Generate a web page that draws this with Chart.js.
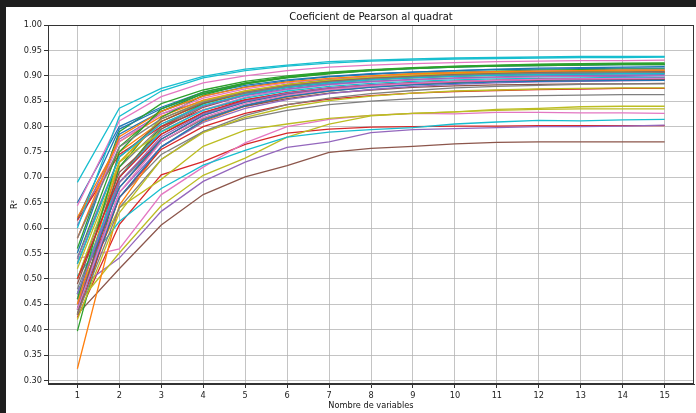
<!DOCTYPE html>
<html>
<head>
<meta charset="utf-8">
<script src="https://cdn.jsdelivr.net/npm/chart.js@4/dist/chart.umd.min.js"></script>
<style>
  html, body { margin: 0; padding: 0; background: #1e1e1e; width: 696px; height: 413px; overflow: hidden; }
  #wrap { position: absolute; left: 6px; top: 7px; width: 690px; height: 406px; background: #fff; }
</style>
</head>
<body>
<div id="wrap"><canvas id="chart"></canvas></div>
<script>
// nombre de variables
const variables = [1, 2, 3, 4, 5, 6, 7, 8, 9, 10, 11, 12, 13, 14, 15]
const yTicks = [0.30, 0.35, 0.40, 0.45, 0.50, 0.55, 0.60, 0.65, 0.70, 0.75, 0.80, 0.85, 0.90, 0.95, 1.00]

// R^2 per run, grouped by colour cycle
const pass1 = [
    [0.65, 0.80, 0.838, 0.868, 0.885, 0.897, 0.905, 0.910, 0.914, 0.917, 0.919, 0.920, 0.921, 0.922, 0.922],
    [0.62, 0.75, 0.81, 0.845, 0.865, 0.878, 0.886, 0.892, 0.896, 0.899, 0.901, 0.902, 0.903, 0.904, 0.905],
    [0.56, 0.79, 0.845, 0.872, 0.889, 0.900, 0.907, 0.912, 0.916, 0.919, 0.921, 0.923, 0.924, 0.925, 0.925],
    [0.424, 0.607, 0.705, 0.731, 0.765, 0.787, 0.795, 0.799, 0.800, 0.801, 0.801, 0.802, 0.802, 0.802, 0.802],
    [0.48, 0.541, 0.633, 0.692, 0.730, 0.759, 0.770, 0.788, 0.794, 0.796, 0.798, 0.800, 0.800, 0.801, 0.803],
    [0.430, 0.520, 0.606, 0.666, 0.701, 0.723, 0.749, 0.757, 0.761, 0.766, 0.769, 0.770, 0.770, 0.770, 0.770],
    [0.54, 0.559, 0.666, 0.720, 0.768, 0.800, 0.814, 0.822, 0.826, 0.825, 0.828, 0.828, 0.827, 0.827, 0.826],
    [0.46, 0.66, 0.745, 0.790, 0.815, 0.832, 0.843, 0.850, 0.855, 0.858, 0.860, 0.861, 0.862, 0.863, 0.863],
    [0.45, 0.551, 0.644, 0.704, 0.738, 0.779, 0.805, 0.821, 0.826, 0.829, 0.834, 0.836, 0.839, 0.840, 0.840],
    [0.69, 0.836, 0.875, 0.899, 0.913, 0.921, 0.928, 0.931, 0.933, 0.935, 0.936, 0.937, 0.938, 0.938, 0.938]
]
const pass2 = [
    [0.617, 0.795, 0.835, 0.865, 0.881, 0.892, 0.899, 0.904, 0.907, 0.910, 0.912, 0.913, 0.914, 0.915, 0.915],
    [0.323, 0.645, 0.760, 0.810, 0.840, 0.858, 0.870, 0.878, 0.883, 0.887, 0.889, 0.891, 0.892, 0.893, 0.894],
    [0.397, 0.70, 0.80, 0.845, 0.868, 0.883, 0.893, 0.899, 0.904, 0.907, 0.909, 0.911, 0.912, 0.913, 0.913],
    [0.44, 0.69, 0.775, 0.822, 0.850, 0.865, 0.875, 0.881, 0.886, 0.889, 0.891, 0.892, 0.893, 0.894, 0.894],
    [0.605, 0.775, 0.825, 0.850, 0.866, 0.877, 0.884, 0.889, 0.892, 0.895, 0.897, 0.898, 0.899, 0.899, 0.900],
    [0.47, 0.68, 0.77, 0.815, 0.840, 0.855, 0.866, 0.872, 0.877, 0.880, 0.882, 0.883, 0.884, 0.884, 0.885],
    [0.644, 0.811, 0.859, 0.886, 0.900, 0.910, 0.917, 0.921, 0.924, 0.926, 0.928, 0.929, 0.930, 0.930, 0.931],
    [0.50, 0.72, 0.80, 0.840, 0.863, 0.877, 0.887, 0.893, 0.897, 0.900, 0.902, 0.904, 0.905, 0.905, 0.906],
    [0.47, 0.64, 0.696, 0.761, 0.793, 0.805, 0.816, 0.822, 0.826, 0.829, 0.832, 0.834, 0.835, 0.835, 0.835],
    [0.506, 0.613, 0.678, 0.724, 0.753, 0.779, 0.789, 0.794, 0.798, 0.805, 0.809, 0.812, 0.811, 0.813, 0.814]
]
const pass3 = [
    [0.551, 0.785, 0.830, 0.860, 0.878, 0.890, 0.898, 0.903, 0.907, 0.910, 0.913, 0.915, 0.916, 0.917, 0.918],
    [0.621, 0.77, 0.82, 0.852, 0.870, 0.882, 0.890, 0.895, 0.899, 0.902, 0.904, 0.905, 0.906, 0.907, 0.908],
    [0.43, 0.72, 0.818, 0.862, 0.884, 0.897, 0.905, 0.911, 0.915, 0.918, 0.920, 0.922, 0.923, 0.924, 0.925],
    [0.615, 0.745, 0.800, 0.833, 0.853, 0.866, 0.875, 0.881, 0.885, 0.888, 0.890, 0.892, 0.893, 0.893, 0.894],
    [0.45, 0.67, 0.760, 0.808, 0.836, 0.853, 0.865, 0.873, 0.879, 0.883, 0.886, 0.888, 0.889, 0.890, 0.891],
    [0.44, 0.70, 0.795, 0.838, 0.862, 0.877, 0.887, 0.893, 0.897, 0.900, 0.902, 0.904, 0.905, 0.906, 0.906],
    [0.46, 0.70, 0.790, 0.833, 0.858, 0.873, 0.882, 0.888, 0.892, 0.895, 0.897, 0.899, 0.900, 0.901, 0.901],
    [0.48, 0.69, 0.770, 0.815, 0.842, 0.860, 0.871, 0.878, 0.883, 0.887, 0.890, 0.892, 0.893, 0.894, 0.895],
    [0.52, 0.73, 0.790, 0.825, 0.848, 0.863, 0.873, 0.880, 0.885, 0.888, 0.890, 0.892, 0.893, 0.894, 0.894],
    [0.60, 0.820, 0.870, 0.896, 0.910, 0.919, 0.925, 0.929, 0.931, 0.933, 0.934, 0.935, 0.936, 0.936, 0.937]
]
const pass4 = [
    [0.47, 0.68, 0.775, 0.822, 0.848, 0.864, 0.874, 0.880, 0.885, 0.888, 0.890, 0.892, 0.893, 0.894, 0.894],
    [0.45, 0.73, 0.810, 0.848, 0.869, 0.882, 0.891, 0.897, 0.901, 0.904, 0.906, 0.908, 0.909, 0.910, 0.910],
    [0.54, 0.76, 0.830, 0.865, 0.884, 0.896, 0.904, 0.910, 0.914, 0.917, 0.919, 0.920, 0.921, 0.922, 0.922],
    [0.43, 0.66, 0.755, 0.800, 0.826, 0.843, 0.854, 0.861, 0.866, 0.869, 0.871, 0.873, 0.874, 0.875, 0.875],
    [0.54, 0.74, 0.805, 0.840, 0.861, 0.874, 0.883, 0.889, 0.893, 0.896, 0.898, 0.900, 0.901, 0.901, 0.902],
    [0.49, 0.71, 0.785, 0.827, 0.851, 0.866, 0.875, 0.881, 0.885, 0.888, 0.890, 0.891, 0.892, 0.892, 0.893],
    [0.58, 0.77, 0.825, 0.856, 0.874, 0.886, 0.894, 0.899, 0.903, 0.906, 0.908, 0.909, 0.910, 0.911, 0.911],
    [0.43, 0.64, 0.735, 0.790, 0.822, 0.843, 0.856, 0.865, 0.871, 0.876, 0.879, 0.881, 0.883, 0.884, 0.884],
    [0.50, 0.73, 0.815, 0.850, 0.870, 0.883, 0.891, 0.897, 0.901, 0.904, 0.906, 0.907, 0.908, 0.909, 0.909],
    [0.47, 0.70, 0.790, 0.832, 0.856, 0.870, 0.879, 0.885, 0.889, 0.892, 0.894, 0.895, 0.896, 0.897, 0.897]
]
const pass5 = [
    [0.44, 0.66, 0.760, 0.812, 0.841, 0.859, 0.870, 0.877, 0.882, 0.885, 0.888, 0.889, 0.890, 0.891, 0.891],
    [0.58, 0.78, 0.830, 0.860, 0.877, 0.888, 0.895, 0.900, 0.904, 0.906, 0.908, 0.909, 0.910, 0.911, 0.911],
    [0.46, 0.75, 0.835, 0.868, 0.886, 0.898, 0.906, 0.911, 0.915, 0.918, 0.920, 0.921, 0.922, 0.923, 0.923],
    [0.50, 0.70, 0.785, 0.828, 0.852, 0.867, 0.876, 0.882, 0.886, 0.889, 0.891, 0.893, 0.894, 0.894, 0.895],
    [0.47, 0.69, 0.780, 0.825, 0.850, 0.866, 0.876, 0.882, 0.886, 0.889, 0.891, 0.893, 0.894, 0.894, 0.895],
    [0.53, 0.74, 0.810, 0.846, 0.867, 0.880, 0.889, 0.895, 0.899, 0.902, 0.904, 0.906, 0.907, 0.907, 0.908],
    [0.44, 0.67, 0.770, 0.818, 0.845, 0.862, 0.873, 0.880, 0.885, 0.889, 0.891, 0.893, 0.894, 0.895, 0.895],
    [0.58, 0.76, 0.815, 0.848, 0.867, 0.880, 0.888, 0.894, 0.898, 0.901, 0.903, 0.905, 0.906, 0.906, 0.907],
    [0.42, 0.63, 0.735, 0.788, 0.818, 0.838, 0.851, 0.860, 0.866, 0.870, 0.872, 0.874, 0.875, 0.876, 0.876],
    [0.53, 0.74, 0.805, 0.842, 0.863, 0.877, 0.886, 0.892, 0.896, 0.899, 0.901, 0.902, 0.903, 0.904, 0.904]
]

const tab10 = ['#1f77b4', '#ff7f0e', '#2ca02c', '#d62728', '#9467bd',
               '#8c564b', '#e377c2', '#7f7f7f', '#bcbd22', '#17becf']

const allRuns = [].concat(pass1, pass2, pass3, pass4, pass5)

const datasets = allRuns.map((vals, i) => ({
    data: vals.map((v, j) => ({ x: variables[j], y: v })),
    borderColor: tab10[i % 10],
    backgroundColor: tab10[i % 10],
    borderWidth: 1.3,
    pointRadius: 0,
    fill: false,
    tension: 0,
    order: allRuns.length - i   // later runs on top, like matplotlib
}))

// top and right spines
const frame = {
    id: 'frame',
    afterDatasetsDraw(chart) {
        const a = chart.chartArea
        const ctx = chart.ctx
        ctx.save()
        ctx.strokeStyle = '#333'
        ctx.lineWidth = 1
        ctx.strokeRect(Math.round(a.left) + 0.5, Math.round(a.top) + 0.5,
                       Math.round(a.right - a.left) - 1, Math.round(a.bottom - a.top) - 1)
        ctx.restore()
    }
}

const font = { family: 'DejaVu Sans', size: 8.2 }

new Chart(document.getElementById('chart'), {
    type: 'line',
    data: { datasets: datasets },
    plugins: [frame],
    options: {
        responsive: true,
        maintainAspectRatio: false,
        animation: false,
        layout: { padding: { top: 0, right: 2, left: 0, bottom: 0 } },
        plugins: {
            legend: { display: false },
            tooltip: { enabled: false },
            title: {
                display: true,
                text: 'Coeficient de Pearson al quadrat',
                fullSize: false,
                color: '#111',
                font: { family: 'DejaVu Sans', size: 10, weight: 'normal' },
                padding: { top: 4, bottom: 2 }
            }
        },
        scales: {
            x: {
                type: 'linear',
                min: 0.3,
                max: 15.7,
                afterBuildTicks: s => { s.ticks = variables.map(v => ({ value: v })) },
                afterFit: s => { s.height = 29 },
                ticks: { color: '#222', font: font, padding: 3, maxRotation: 0 },
                grid: { color: 'rgba(176,176,176,0.75)', lineWidth: 1, tickLength: 4, tickColor: '#333' },
                border: { color: '#333', width: 1 },
                title: { display: true, text: 'Nombre de variables', color: '#111', font: font, padding: { top: 0, bottom: 2 } }
            },
            y: {
                min: 0.293,
                max: 1.0,
                afterBuildTicks: s => { s.ticks = yTicks.map(v => ({ value: v })) },
                afterFit: s => { s.width = 42 },
                ticks: { color: '#222', font: font, padding: 2, callback: v => v.toFixed(2) },
                grid: { color: 'rgba(176,176,176,0.75)', lineWidth: 1, tickLength: 4, tickColor: '#333' },
                border: { color: '#333', width: 1 },
                title: { display: true, text: 'R²', color: '#111', font: font, padding: { top: 4, bottom: 0 } }
            }
        }
    }
})
</script>
</body>
</html>
